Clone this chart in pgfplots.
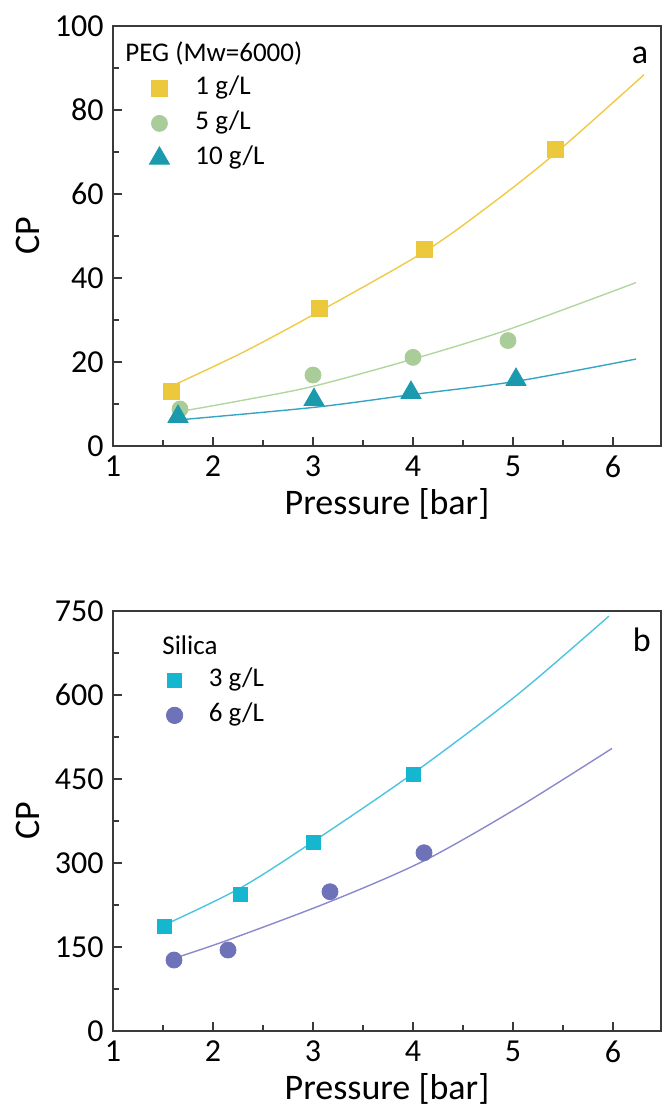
\documentclass[border=0pt]{standalone}
\usepackage{fontspec}
\setmainfont{Carlito}
\usepackage{pgfplots}
\pgfplotsset{compat=1.18}

\definecolor{axcol}{HTML}{3A3A3A}
\definecolor{cyel}{HTML}{EBC83C}
\definecolor{cyelL}{HTML}{F0CA45}
\definecolor{cgrn}{HTML}{A9CC98}
\definecolor{cgrnL}{HTML}{B2D69E}
\definecolor{cteal}{HTML}{1B9AAE}
\definecolor{ctealL}{HTML}{35A5C4}
\definecolor{ccyan}{HTML}{14B6D0}
\definecolor{ccyanL}{HTML}{4CC4E0}
\definecolor{cpur}{HTML}{6E73B9}
\definecolor{cpurL}{HTML}{8A89CC}

\pgfplotsset{
  myax/.style={
    scale only axis, width=274pt, height=210pt,
    xmin=1, xmax=6.48, xtick={1,2,3,4,5,6}, minor x tick num=1, minor y tick num=1,
    tick align=inside, xtick pos=bottom, ytick pos=left,
    major tick length=4.5pt, minor tick length=3pt,
    axis line style={draw=axcol, line width=0.8pt},
    every tick/.style={draw=axcol, line width=0.7pt},
    tick label style={font=\fontsize{16}{19}\selectfont},
    /pgf/number format/assume math mode=true,
    label style={font=\fontsize{18}{22}\selectfont},
    xlabel={Pressure [bar]}, ylabel={CP},
    xlabel style={at={(rel axis cs:0.5,-0.138)}, anchor=center},
    ylabel style={at={(rel axis cs:-0.155,0.5)}, anchor=center},
    xticklabel style={yshift=-1.5pt},
    yticklabel style={xshift=-1.2pt},
    legend cell align=left,
  },
  fitline/.style={smooth, line width=0.7pt, no marks},
}

\begin{document}
\begin{tikzpicture}
\useasboundingbox (0,0) rectangle (331.5pt,555pt);

% ---------------- panel a ----------------
\begin{axis}[myax, at={(56.5pt,332pt)}, anchor=south west,
  ymin=0, ymax=100, ytick={0,20,40,60,80,100},
  legend style={draw=none, fill=none, inner sep=0pt,
    at={(rel axis cs:0.0657,0.8845)}, anchor=north west,
    font=\fontsize{13.5}{16}\selectfont,
    nodes={inner xsep=0pt, inner ysep=0pt, text height=10pt, text depth=3.5pt},
    row sep=4pt,
    /tikz/every odd column/.append style={column sep=13pt}},
]
\addlegendimage{only marks, mark=square*, mark size=4pt, color=cyel}
\addlegendentry{1 g/L}
\addlegendimage{only marks, mark=*, mark size=4pt, color=cgrn}
\addlegendentry{5 g/L}
\addlegendimage{only marks, mark=triangle*, mark size=5.8pt, color=cteal}
\addlegendentry{10 g/L}

\addplot[fitline, cyelL] coordinates {(1.58,14.2) (2.3,22.3) (3.06,32.0) (4.11,46.2) (4.75,57.0) (5.42,69.6) (6.31,88.4)};
\addplot[fitline, cgrnL] coordinates {(1.67,8.2) (2.3,10.9) (3.0,14.2) (4.0,20.7) (4.95,27.7) (6.23,38.9)};
\addplot[fitline, ctealL] coordinates {(1.65,6.2) (3.01,9.2) (3.98,12.2) (5.03,15.4) (6.23,20.7)};

\addplot[only marks, mark=square*, mark size=4pt, color=cyel] coordinates {(1.58,13.1) (3.06,32.8) (4.11,46.7) (5.42,70.6)};
\addplot[only marks, mark=*, mark size=4pt, color=cgrn] coordinates {(1.67,8.8) (3.0,16.9) (4.0,21.1) (4.95,25.1)};
\addplot[only marks, mark=triangle*, mark size=5.8pt, color=cteal] coordinates {(1.65,7.0) (3.01,11.0) (3.98,12.7) (5.03,15.8)};

\node[anchor=west, inner sep=0pt, font=\fontsize{13.5}{16}\selectfont] at (rel axis cs:0.0219,0.935) {PEG (Mw=6000)};
\node[font=\fontsize{17}{20}\selectfont, inner sep=0pt] at (rel axis cs:0.9617,0.930) {a};
\end{axis}

% ---------------- panel b ----------------
\begin{axis}[myax, at={(56.5pt,39.5pt)}, anchor=south west,
  ymin=0, ymax=750, ytick={0,150,300,450,600,750},
  legend style={draw=none, fill=none, inner sep=0pt,
    at={(rel axis cs:0.0967,0.8679)}, anchor=north west,
    font=\fontsize{13.5}{16}\selectfont,
    nodes={inner xsep=0pt, inner ysep=0pt, text height=10pt, text depth=3.5pt},
    row sep=4pt,
    /tikz/every odd column/.append style={column sep=13pt}},
]
\addlegendimage{only marks, mark=square*, mark size=3.6pt, color=ccyan}
\addlegendentry{3 g/L}
\addlegendimage{only marks, mark=*, mark size=4.1pt, color=cpur}
\addlegendentry{6 g/L}

\addplot[fitline, ccyanL] coordinates {(1.51,189) (2.27,255) (3.0,338) (4.0,460) (5.04,600) (5.96,741)};
\addplot[fitline, cpurL] coordinates {(1.61,129.7) (2.15,162.4) (3.17,231) (4.11,304) (5.04,398) (5.99,504.6)};

\addplot[only marks, mark=square*, mark size=3.5pt, color=ccyan] coordinates {(1.51,186) (2.27,244.6) (3.0,336.8) (4.0,458.7)};
\addplot[only marks, mark=*, mark size=4pt, color=cpur] coordinates {(1.61,126.7) (2.15,144.6) (3.17,248.7) (4.11,318.3)};

\node[anchor=west, inner sep=0pt, font=\fontsize{13.5}{16}\selectfont] at (rel axis cs:0.0894,0.919) {Silica};
\node[font=\fontsize{17}{20}\selectfont, inner sep=0pt] at (rel axis cs:0.965,0.931) {b};
\end{axis}
\end{tikzpicture}
\end{document}
